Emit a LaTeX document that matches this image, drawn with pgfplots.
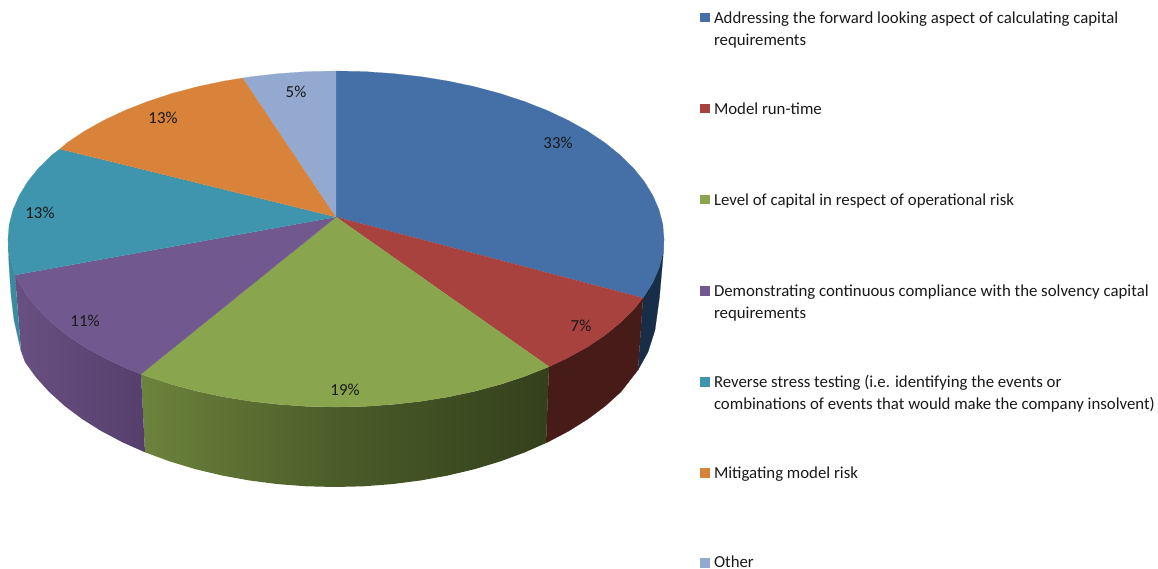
\documentclass[border=0pt]{standalone}
\usepackage{pgfplots}
\pgfplotsset{compat=1.18}
\usepackage{fontspec}
\setmainfont{Carlito}
\definecolor{cblue}{RGB}{69,112,167}
\definecolor{cred}{RGB}{167,66,63}
\definecolor{cgreen}{RGB}{137,165,78}
\definecolor{cpurple}{RGB}{113,88,143}
\definecolor{cteal}{RGB}{62,149,173}
\definecolor{corange}{RGB}{217,130,58}
\definecolor{clight}{RGB}{147,169,207}
\definecolor{dblue}{RGB}{24,45,72}
\definecolor{dred}{RGB}{70,27,24}
\definecolor{dgreenL}{RGB}{108,131,60}
\definecolor{dgreenR}{RGB}{52,64,28}
\definecolor{dpurpleL}{RGB}{104,80,130}
\definecolor{dpurpleR}{RGB}{86,63,108}
\definecolor{dteal}{RGB}{58,138,160}
\tikzset{lbl/.style={font=\fontsize{16.8}{20}\selectfont, text=black!90, inner sep=0pt, outer sep=0pt}}
\begin{document}
\begin{tikzpicture}
\path[use as bounding box] (0,0) rectangle (1158pt,569pt);
\begin{axis}[
  at={(0,0)}, anchor=south west,
  scale only axis, width=1158pt, height=569pt,
  xmin=0, xmax=1158, ymin=0, ymax=569, y dir=reverse,
  hide axis, clip=false,
]
% sides
\addplot[fill=dblue,draw=dblue,line width=.2pt] coordinates {(664,239)(663,257)(659.5,297)(655,330)(648,352)(638,370)(643,298)(652.8,282.5)(659,268.2)(662.8,253.6)};
\addplot[fill=dred,draw=dred,line width=.2pt] coordinates {(643,298)(633.3,310)(620,323)(604.7,335.4)(587.3,347)(567.9,357.8)(549,366.7)(546,443)(568.3,431.3)(587.8,419.1)(605.3,406)(620.8,392)(638,370)};
\addplot[draw=none,left color=dgreenL,right color=dgreenR,middle color=dgreenR!60!dgreenL] coordinates {(141,374)(147.9,376.6)(172,384.5)(197.4,391.3)(223.8,396.9)(251.1,401.3)(279,404.4)(307.4,406.4)(336,407)(364.6,406.4)(393,404.4)(420.9,401.3)(448.2,396.9)(474.6,391.3)(500,384.5)(524.1,376.6)(549,366.7)(546,443)(524.3,452.6)(500,461.5)(474.5,469.2)(447.9,475.5)(420.4,480.5)(392.3,484.1)(363.8,486.3)(335,487)(306.2,486.3)(277.7,484.1)(249.6,480.5)(222.1,475.5)(195.5,469.2)(170,461.5)(145,452.3)};
\addplot[draw=none,left color=dpurpleL,right color=dpurpleR] coordinates {(15,275)(19.2,282.5)(27.8,296.5)(38.7,310)(52,323)(67.3,335.4)(84.7,347)(104.1,357.8)(125.2,367.7)(141,374)(145,452.3)(122.9,442.5)(101.7,431.3)(82.2,419.1)(64.7,406)(49.2,392)(35.9,377.3)(24.9,362)(21,351)};
\addplot[fill=dteal,draw=dteal,line width=.2pt] coordinates {(15,275)(9.2,253.6)(8,239)(9,265)(11,295)(14,320)(21,351)};
% tops
\addplot[fill=cblue,draw=cblue,line width=.2pt] coordinates {(336,217)(336,71)(364.6,71.6)(393,73.6)(420.9,76.7)(448.2,81.1)(474.6,86.7)(500,93.5)(524.1,101.4)(546.8,110.3)(567.9,120.2)(587.3,131)(604.7,142.6)(620,155)(633.3,168)(644.2,181.5)(652.8,195.5)(659,209.8)(662.8,224.4)(664,239)(662.8,253.6)(659,268.2)(652.8,282.5)(643,298)};
\addplot[fill=cred,draw=cred,line width=.2pt] coordinates {(336,217)(643,298)(633.3,310)(620,323)(604.7,335.4)(587.3,347)(567.9,357.8)(549,366.7)};
\addplot[fill=cgreen,draw=cgreen,line width=.2pt] coordinates {(336,217)(549,366.7)(524.1,376.6)(500,384.5)(474.6,391.3)(448.2,396.9)(420.9,401.3)(393,404.4)(364.6,406.4)(336,407)(307.4,406.4)(279,404.4)(251.1,401.3)(223.8,396.9)(197.4,391.3)(172,384.5)(147.9,376.6)(141,374)};
\addplot[fill=cpurple,draw=cpurple,line width=.2pt] coordinates {(336,217)(141,374)(125.2,367.7)(104.1,357.8)(84.7,347)(67.3,335.4)(52,323)(38.7,310)(27.8,296.5)(19.2,282.5)(15,275)};
\addplot[fill=cteal,draw=cteal,line width=.2pt] coordinates {(336,217)(15,275)(9.2,253.6)(8,239)(9.2,224.4)(13,209.8)(19.2,195.5)(27.8,181.5)(38.7,168)(52,155)(60,149)};
\addplot[fill=corange,draw=corange,line width=.2pt] coordinates {(336,217)(60,149)(67.3,142.6)(84.7,131)(104.1,120.2)(125.2,110.3)(147.9,101.4)(172,93.5)(197.4,86.7)(223.8,81.1)(243,78)};
\addplot[fill=clight,draw=clight,line width=.2pt] coordinates {(336,217)(243,78)(251.1,76.7)(279,73.6)(307.4,71.6)(336,71)};
% legend swatches
\addplot[fill=cblue,draw=none] coordinates {(700,13)(710,13)(710,22.5)(700,22.5)};
\addplot[fill=cred,draw=none] coordinates {(700,104)(710,104)(710,113.5)(700,113.5)};
\addplot[fill=cgreen,draw=none] coordinates {(700,195)(710,195)(710,204.5)(700,204.5)};
\addplot[fill=cpurple,draw=none] coordinates {(700,286)(710,286)(710,295.5)(700,295.5)};
\addplot[fill=cteal,draw=none] coordinates {(700,377)(710,377)(710,386.5)(700,386.5)};
\addplot[fill=corange,draw=none] coordinates {(700,468)(710,468)(710,477.5)(700,477.5)};
\addplot[fill=clight,draw=none] coordinates {(700,558)(710,558)(710,567.5)(700,567.5)};
% legend text
\node[lbl,anchor=base west] at (axis cs:714,23.5) {Addressing the forward looking aspect of calculating capital};
\node[lbl,anchor=base west] at (axis cs:714,45.5) {requirements};
\node[lbl,anchor=base west] at (axis cs:714,114.5) {Model run-time};
\node[lbl,anchor=base west] at (axis cs:714,205.5) {Level of capital in respect of operational risk};
\node[lbl,anchor=base west] at (axis cs:714,296.5) {Demonstrating continuous compliance with the solvency capital};
\node[lbl,anchor=base west] at (axis cs:714,318.5) {requirements};
\node[lbl,anchor=base west] at (axis cs:714,387.5) {Reverse stress testing (i.e. identifying the events or};
\node[lbl,anchor=base west] at (axis cs:714,409.5) {combinations of events that would make the company insolvent)};
\node[lbl,anchor=base west] at (axis cs:714,478.5) {Mitigating model risk};
\node[lbl,anchor=base west] at (axis cs:714,567) {Other};
% data labels
\node[lbl] at (axis cs:558,143) {33\%};
\node[lbl] at (axis cs:581,326) {7\%};
\node[lbl] at (axis cs:345,390) {19\%};
\node[lbl] at (axis cs:85,321) {11\%};
\node[lbl] at (axis cs:40,213) {13\%};
\node[lbl] at (axis cs:163,118) {13\%};
\node[lbl] at (axis cs:296,92) {5\%};
\end{axis}
\end{tikzpicture}
\end{document}
